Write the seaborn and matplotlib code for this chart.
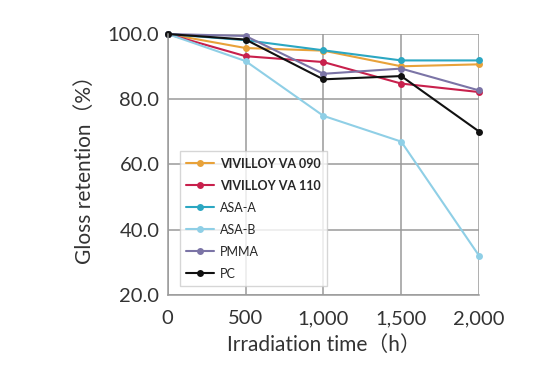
import matplotlib
matplotlib.use("Agg")
import matplotlib.pyplot as plt
import pandas as pd
import seaborn as sns

# data
hours = [0, 500, 1000, 1500, 2000]
va090 = [100.0, 95.7, 94.9, 90.1, 90.7]
va110 = [100.0, 93.2, 91.4, 84.8, 82.2]
asa_a = [100.0, 98.1, 95.0, 91.9, 91.9]
asa_b = [100.0, 91.7, 74.9, 67.0, 32.0]
pmma = [100.0, 99.4, 87.8, 89.4, 82.7]
pc = [100.0, 98.3, 86.1, 87.1, 70.1]

names = ["VIVILLOY VA 090", "VIVILLOY VA 110", "ASA-A", "ASA-B", "PMMA", "PC"]
colors = ["#E8A23A", "#C8204C", "#2BA7C2", "#8FCFE6", "#7B74A6", "#111111"]

rows = []
for name, vals in zip(names, [va090, va110, asa_a, asa_b, pmma, pc]):
    for h, v in zip(hours, vals):
        rows.append({"hours": h, "retention": v, "material": name})
df = pd.DataFrame(rows)

sns.set_style("white")
plt.rcParams["font.family"] = ["Lato", "Noto Sans CJK JP", "DejaVu Sans"]

fig = plt.figure(figsize=(5.5, 3.78), dpi=100)
ax = fig.add_axes([0.305, 0.22, 0.566, 0.69])

sns.lineplot(data=df, x="hours", y="retention", hue="material", hue_order=names,
             palette=colors, marker="o", markersize=5, markeredgewidth=0,
             linewidth=1.5, ax=ax, clip_on=False)

ax.set_xlim(0, 2000)
ax.set_ylim(20, 100)
ax.set_xticks(hours)
ax.set_xticklabels(["0", "500", "1,000", "1,500", "2,000"])
ax.set_yticks([20, 40, 60, 80, 100])
ax.set_yticklabels(["20.0", "40.0", "60.0", "80.0", "100.0"])
ax.tick_params(axis="y", length=0, labelsize=14.5, colors="#333333", pad=6)
ax.tick_params(axis="x", length=0, labelsize=14.5, colors="#333333", pad=11)
ax.grid(True, color="#9a9a9a", linewidth=1.1)
for s in ["top", "right"]:
    ax.spines[s].set_visible(False)
for s in ["left", "bottom"]:
    ax.spines[s].set_color("#9a9a9a")
    ax.spines[s].set_linewidth(1.1)

ax.set_xlabel("Irradiation time（h）", fontsize=15, color="#333333", labelpad=6)
ax.set_ylabel("Gloss retention（%）", fontsize=15, color="#333333", labelpad=9)

leg = ax.legend(loc="lower left", bbox_to_anchor=(0.02, 0.01), fontsize=9,
                frameon=True, fancybox=False, edgecolor="#cccccc",
                handlelength=2.2, handletextpad=0.5, borderpad=0.5,
                labelspacing=0.8)
for t in leg.get_texts()[:2]:
    t.set_fontweight("bold")

fig.savefig("out.png", dpi=100)
